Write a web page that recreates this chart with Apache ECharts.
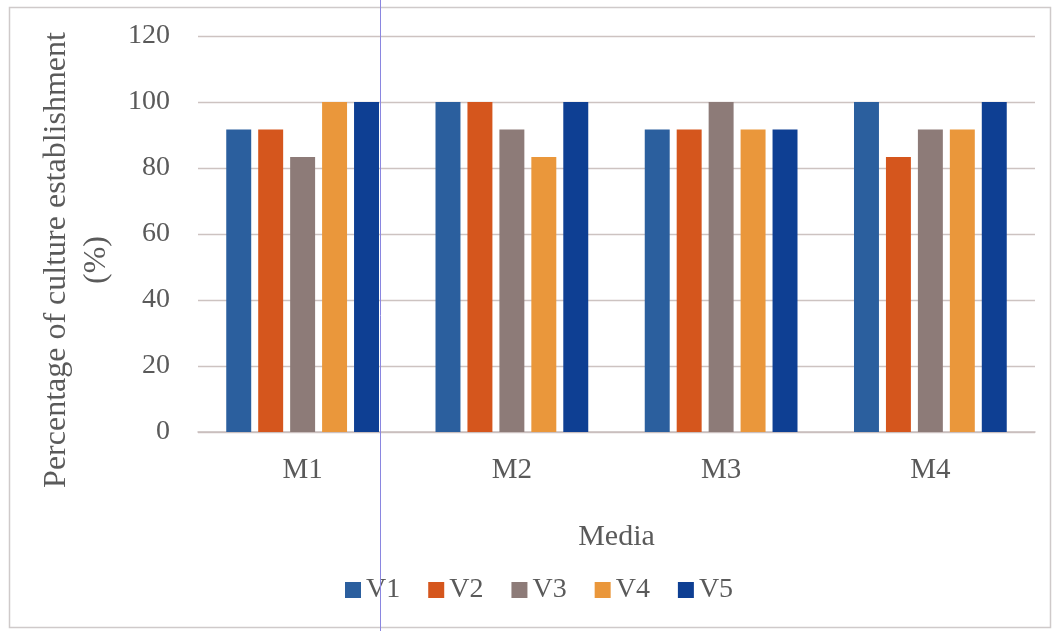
<!DOCTYPE html>
<html>
<head>
<meta charset="utf-8">
<script src="https://cdn.jsdelivr.net/npm/echarts@6/dist/echarts.min.js"></script>
<style>
  html, body { margin: 0; padding: 0; background: #fff; }
  #chart { width: 1055px; height: 631px; }
</style>
</head>
<body>
<div id="chart"></div>
<script>
// Culture establishment rate per medium, for five varieties
const media = ['M1', 'M2', 'M3', 'M4'];
const seriesNames = ['V1', 'V2', 'V3', 'V4', 'V5'];
const v1 = [91.7, 100, 91.7, 100];
const v2 = [91.7, 100, 91.7, 83.3];
const v3 = [83.3, 91.7, 100, 91.7];
const v4 = [100, 83.3, 91.7, 91.7];
const v5 = [100, 100, 91.7, 100];
const values = [v1, v2, v3, v4, v5];
const colors = ['#2B5F9E', '#D5561D', '#8D7B78', '#EA973B', '#0E3F93'];
const yTitle = 'Percentage of culture establishment\n(%)';

const textColor = '#5a5a5a';
const fontFamily = '"Liberation Serif", "DejaVu Serif", serif';

const chart = echarts.init(document.getElementById('chart'), null, { renderer: 'canvas' });

chart.setOption({
  backgroundColor: '#ffffff',
  animation: false,
  textStyle: { fontFamily: fontFamily, color: textColor },
  grid: { left: 198, right: 20, top: 36, bottom: 199, containLabel: false },
  legend: {
    data: seriesNames,
    bottom: 22,
    left: 340,
    itemWidth: 16,
    itemHeight: 16,
    itemGap: 28,
    icon: 'rect',
    textStyle: { fontFamily: fontFamily, fontSize: 28, color: textColor, padding: [0, 0, 0, 0] }
  },
  xAxis: {
    type: 'category',
    data: media,
    name: 'Media',
    nameLocation: 'middle',
    nameGap: 90,
    nameTextStyle: { fontFamily: fontFamily, fontSize: 30, color: textColor },
    axisLine: { lineStyle: { color: '#c9bfbd', width: 1.5 } },
    axisTick: { show: false },
    axisLabel: { fontFamily: fontFamily, fontSize: 29, color: textColor, margin: 24 }
  },
  yAxis: {
    type: 'value',
    min: 0,
    max: 120,
    interval: 20,
    axisLine: { show: false },
    axisTick: { show: false },
    axisLabel: { fontFamily: fontFamily, fontSize: 28, color: textColor, margin: 28 },
    splitLine: { lineStyle: { color: '#cdc3c1', width: 1.3 } }
  },
  series: seriesNames.map((name, i) => ({
    name: name,
    type: 'bar',
    data: values[i],
    barGap: '28%',
    barCategoryGap: '27%',
    itemStyle: { color: colors[i] }
  })),
  graphic: [
    {
      // rotated y-axis title
      type: 'text',
      x: 77,
      y: 260,
      rotation: Math.PI / 2,
      silent: true,
      style: {
        text: yTitle,
        fontFamily: fontFamily,
        fontSize: 32,
        lineHeight: 40,
        fill: textColor,
        align: 'center',
        verticalAlign: 'middle'
      }
    },
    {
      type: 'rect',
      shape: { x: 9.5, y: 7.5, width: 1041, height: 620 },
      style: { fill: 'none', stroke: '#cfcaca', lineWidth: 1.5 },
      silent: true,
      z: 100
    },
    {
      type: 'line',
      shape: { x1: 380.5, y1: 0, x2: 380.5, y2: 631 },
      style: { stroke: '#8a86e0', lineWidth: 1 },
      silent: true,
      z: 100
    }
  ]
});
</script>
</body>
</html>
